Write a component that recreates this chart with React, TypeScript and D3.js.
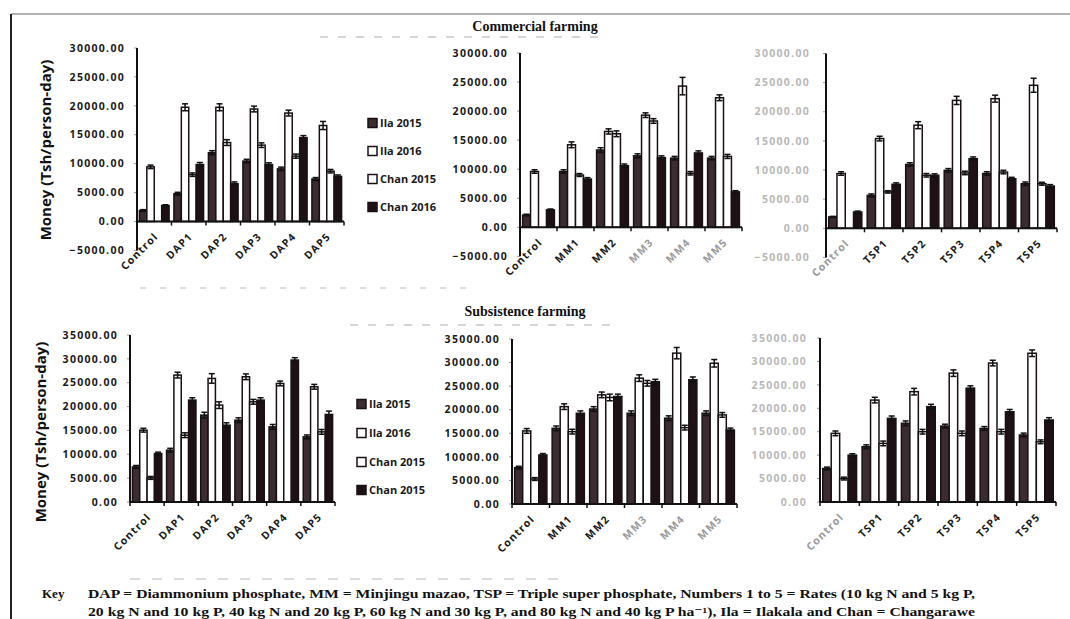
import React from "react";
import * as d3 from "d3";

// ---------- categories & labels ----------
const catsDAP = ["Control", "DAP1", "DAP2", "DAP3", "DAP4", "DAP5"];
const catsMM = ["Control", "MM1", "MM2", "MM3", "MM4", "MM5"];
const catsTSP = ["Control", "TSP1", "TSP2", "TSP3", "TSP4", "TSP5"];

const legendTop = ["Ila 2015", "Ila 2016", "Chan 2015", "Chan 2016"];
const legendBottom = ["Ila 2015", "Ila 2016", "Chan 2015", "Chan 2015"];

const ticksCommercial = [-5000, 0, 5000, 10000, 15000, 20000, 25000, 30000];
const ticksSubsistence = [0, 5000, 10000, 15000, 20000, 25000, 30000, 35000];

// ---------- Commercial farming: DAP ----------
const comDapIla15 = [1900, 4800, 11900, 10450, 9100, 7350];
const comDapIla16 = [9450, 19750, 19750, 19450, 18750, 16600];
const comDapChan15 = [0, 8100, 13650, 13200, 11300, 8700];
const comDapChan16 = [2750, 9850, 6550, 9850, 14500, 7800];
const comDapIla15Err = [150, 250, 350, 300, 300, 250];
const comDapIla16Err = [300, 600, 600, 500, 500, 700];
const comDapChan15Err = [0, 300, 500, 400, 350, 300];
const comDapChan16Err = [150, 350, 300, 300, 350, 250];

// ---------- Commercial farming: MM ----------
const comMmIla15 = [2100, 9600, 13300, 12300, 11900, 11900];
const comMmIla16 = [9600, 14200, 16500, 19300, 24300, 22300];
const comMmChan15 = [0, 9000, 16100, 18300, 9300, 12200];
const comMmChan16 = [3000, 8300, 10600, 12000, 12800, 6100];
const comMmIla15Err = [150, 300, 400, 350, 300, 300];
const comMmIla16Err = [300, 500, 450, 400, 1500, 500];
const comMmChan15Err = [0, 250, 500, 400, 300, 350];
const comMmChan16Err = [150, 250, 300, 300, 350, 200];

// ---------- Commercial farming: TSP ----------
const comTspIla15 = [1950, 5650, 10950, 9950, 9400, 7650];
const comTspIla16 = [9400, 15400, 17700, 21950, 22250, 24550];
const comTspChan15 = [0, 6250, 9100, 9500, 9650, 7650];
const comTspChan16 = [2800, 7550, 9100, 11950, 8500, 7250];
const comTspIla15Err = [100, 250, 300, 300, 300, 300];
const comTspIla16Err = [300, 400, 600, 700, 600, 1200];
const comTspChan15Err = [0, 200, 300, 300, 300, 250];
const comTspChan16Err = [150, 250, 250, 300, 250, 250];

// ---------- Subsistence farming: DAP ----------
const subDapIla15 = [7350, 10850, 18200, 17150, 15750, 13650];
const subDapIla16 = [15050, 26600, 25900, 26250, 24850, 24150];
const subDapChan15 = [5050, 14000, 20300, 21000, 0, 14700];
const subDapChan16 = [10150, 21350, 16100, 21350, 29750, 18350];
const subDapIla15Err = [300, 400, 600, 500, 500, 400];
const subDapIla16Err = [400, 600, 1000, 600, 500, 500];
const subDapChan15Err = [300, 500, 700, 500, 0, 500];
const subDapChan16Err = [300, 500, 500, 500, 500, 700];

// ---------- Subsistence farming: MM ----------
const subMmIla15 = [7700, 16050, 20150, 19250, 18200, 19250];
const subMmIla16 = [15500, 20650, 23150, 26700, 32000, 29850];
const subMmChan15 = [5300, 15350, 22600, 25600, 16200, 18900];
const subMmChan16 = [10400, 19250, 22800, 25950, 26350, 15700];
const subMmIla15Err = [300, 500, 500, 500, 500, 500];
const subMmIla16Err = [500, 600, 600, 700, 1200, 800];
const subMmChan15Err = [300, 500, 700, 600, 500, 500];
const subMmChan16Err = [300, 500, 500, 500, 600, 400];

// ---------- Subsistence farming: TSP ----------
const subTspIla15 = [7150, 11800, 16800, 16200, 15700, 14300];
const subTspIla16 = [14650, 21750, 23550, 27500, 29650, 31750];
const subTspChan15 = [5000, 12500, 15000, 14650, 15000, 12850];
const subTspChan16 = [10000, 17850, 20350, 24300, 19250, 17500];
const subTspIla15Err = [300, 400, 500, 400, 400, 400];
const subTspIla16Err = [500, 600, 700, 700, 600, 700];
const subTspChan15Err = [300, 500, 500, 500, 500, 400];
const subTspChan16Err = [300, 500, 500, 500, 500, 500];

// ---------- styles ----------
const seriesFill = ["#3b2c31", "#ffffff", "#ffffff", "#1d1115"];
const barStroke = "#1a1014";
const sansBold = "'Open Sans', 'Liberation Sans', sans-serif";
const serif = "'Liberation Serif', 'DejaVu Serif', serif";

type Panel = {
  cats: string[];
  vals: number[][];
  errs: number[][];
  x0: number;
  x1: number;
  yTop: number;
  yZero: number;
  max: number;
  ticks: number[];
  faintY: boolean;
  faintX: number[];
  labelGap: number;
};

const panels: Panel[] = [
  {
    cats: catsDAP,
    vals: [comDapIla15, comDapIla16, comDapChan15, comDapChan16],
    errs: [comDapIla15Err, comDapIla16Err, comDapChan15Err, comDapChan16Err],
    x0: 137, x1: 344, yTop: 48, yZero: 221.5, max: 30000,
    ticks: ticksCommercial, faintY: false, faintX: [], labelGap: 12,
  },
  {
    cats: catsMM,
    vals: [comMmIla15, comMmIla16, comMmChan15, comMmChan16],
    errs: [comMmIla15Err, comMmIla16Err, comMmChan15Err, comMmChan16Err],
    x0: 520, x1: 742, yTop: 53, yZero: 227.3, max: 30000,
    ticks: ticksCommercial, faintY: false, faintX: [3, 4, 5], labelGap: 12,
  },
  {
    cats: catsTSP,
    vals: [comTspIla15, comTspIla16, comTspChan15, comTspChan16],
    errs: [comTspIla15Err, comTspIla16Err, comTspChan15Err, comTspChan16Err],
    x0: 826, x1: 1057, yTop: 53.5, yZero: 228.3, max: 30000,
    ticks: ticksCommercial, faintY: true, faintX: [0], labelGap: 16,
  },
  {
    cats: catsDAP,
    vals: [subDapIla15, subDapIla16, subDapChan15, subDapChan16],
    errs: [subDapIla15Err, subDapIla16Err, subDapChan15Err, subDapChan16Err],
    x0: 130, x1: 335, yTop: 335, yZero: 502, max: 35000,
    ticks: ticksSubsistence, faintY: false, faintX: [], labelGap: 12,
  },
  {
    cats: catsMM,
    vals: [subMmIla15, subMmIla16, subMmChan15, subMmChan16],
    errs: [subMmIla15Err, subMmIla16Err, subMmChan15Err, subMmChan16Err],
    x0: 512, x1: 737, yTop: 339, yZero: 504, max: 35000,
    ticks: ticksSubsistence, faintY: false, faintX: [3, 4, 5], labelGap: 12,
  },
  {
    cats: catsTSP,
    vals: [subTspIla15, subTspIla16, subTspChan15, subTspChan16],
    errs: [subTspIla15Err, subTspIla16Err, subTspChan15Err, subTspChan16Err],
    x0: 820, x1: 1056, yTop: 338, yZero: 502, max: 35000,
    ticks: ticksSubsistence, faintY: true, faintX: [0], labelGap: 13,
  },
];

const fmt = d3.format(".2f");

function BarPanel({ p }: { p: Panel }) {
  const y = d3.scaleLinear().domain([0, p.max]).range([p.yZero, p.yTop]);
  const x = d3.scaleBand<string>().domain(p.cats).range([p.x0, p.x1]).paddingInner(0.14).paddingOuter(0.07);
  const step = (p.x1 - p.x0) / p.cats.length;
  const sub = d3.scaleBand<number>().domain([0, 1, 2, 3]).range([0, x.bandwidth()]).padding(0);
  const yMin = d3.min(p.ticks) as number;
  const tickColor = p.faintY ? "#b8b8b8" : "#1a1a1a";
  return (
    <g>
      {/* y ticks & labels */}
      {p.ticks.map((t) => (
        <g key={"yt" + t}>
          <line x1={p.x0 - 3} x2={p.x0} y1={y(t)} y2={y(t)} stroke="#999" strokeWidth={1} />
          <text
            x={p.x0 - p.labelGap}
            y={y(t)}
            dy="0.35em"
            textAnchor="end"
            fontFamily={sansBold}
            fontWeight={700}
            fontSize={10.5}
            letterSpacing={1.3}
            fill={tickColor}
          >
            {fmt(t)}
          </text>
        </g>
      ))}
      {/* bars */}
      {p.cats.map((c, ci) => (
        <g key={"c" + c}>
          {p.vals.map((arr, si) => {
            const v = arr[ci];
            if (!v) return null;
            const bx = (x(c) as number) + (sub(si) as number);
            const bw = sub.bandwidth();
            const e = p.errs[si][ci];
            const cx = bx + bw / 2;
            return (
              <g key={"b" + si}>
                <rect
                  x={bx}
                  y={y(v)}
                  width={bw}
                  height={y(0) - y(v)}
                  fill={seriesFill[si]}
                  stroke={barStroke}
                  strokeWidth={1.5}
                />
                {e > 0 && (
                  <g stroke="#111" strokeWidth={1.5}>
                    <line x1={cx} x2={cx} y1={y(v + e)} y2={y(v - e)} />
                    <line x1={cx - 3} x2={cx + 3} y1={y(v + e)} y2={y(v + e)} />
                    <line x1={cx - 3} x2={cx + 3} y1={y(v - e)} y2={y(v - e)} />
                  </g>
                )}
              </g>
            );
          })}
        </g>
      ))}
      {/* axes */}
      <line x1={p.x0} x2={p.x0} y1={y(p.max)} y2={y(yMin)} stroke="#111" strokeWidth={2} />
      <line x1={p.x0} x2={p.x1} y1={y(0)} y2={y(0)} stroke="#111" strokeWidth={2} />
      {d3.range(p.cats.length + 1).map((i) => (
        <line
          key={"xt" + i}
          x1={p.x0 + i * step}
          x2={p.x0 + i * step}
          y1={y(0)}
          y2={y(0) + 4}
          stroke="#111"
          strokeWidth={1.5}
        />
      ))}
      {/* x labels */}
      {p.cats.map((c, ci) => {
        const cx = (x(c) as number) + x.bandwidth() / 2;
        return (
          <text
            key={"xl" + c}
            transform={`translate(${cx + 2},${y(0) + 13}) rotate(-45)`}
            textAnchor="end"
            dy="0.35em"
            fontFamily={sansBold}
            fontWeight={700}
            fontSize={10.5}
            letterSpacing={1.2}
            fill={p.faintX.includes(ci) ? "#9a9a9a" : "#1a1a1a"}
          >
            {c}
          </text>
        );
      })}
    </g>
  );
}

function Legend({ x, ys, labels }: { x: number; ys: number[]; labels: string[] }) {
  return (
    <g>
      {labels.map((l, i) => (
        <g key={"lg" + i}>
          <rect
            x={x}
            y={ys[i] - 4.5}
            width={9}
            height={9}
            fill={seriesFill[i]}
            stroke={barStroke}
            strokeWidth={1.5}
          />
          <text
            x={x + 12}
            y={ys[i]}
            dy="0.35em"
            fontFamily={sansBold}
            fontWeight={700}
            fontSize={11}
            fill="#1a1a1a"
          >
            {l}
          </text>
        </g>
      ))}
    </g>
  );
}

const legendTopY = [123, 151, 179, 207];
const legendBottomY = [404, 433, 462, 490];

export default function App() {
  return (
    <div style={{ position: "absolute", left: 0, top: 0 }}>
      <svg width={1070} height={619} style={{ display: "block", background: "#fff" }}>
        {/* frame lines */}
        <line x1={11} x2={1070} y1={14} y2={14} stroke="#666" strokeWidth={1} />
        <line x1={11} x2={11} y1={14} y2={619} stroke="#222" strokeWidth={2} />

        {/* faint scan separators */}
        <line x1={320} x2={600} y1={37} y2={37} stroke="#c8c8c8" strokeWidth={1.5} strokeDasharray="8 10" />
        <line x1={140} x2={470} y1={288} y2={288} stroke="#d4d4d4" strokeWidth={1.5} strokeDasharray="6 14" />
        <line x1={350} x2={610} y1={325} y2={325} stroke="#c8c8c8" strokeWidth={1.5} strokeDasharray="8 10" />
        <line x1={130} x2={560} y1={579} y2={579} stroke="#cfcfcf" strokeWidth={1.5} strokeDasharray="10 12" />

        {/* section titles */}
        <text x={535} y={31} textAnchor="middle" fontFamily={serif} fontWeight={700} fontSize={14} fill="#111">
          Commercial farming
        </text>
        <text x={525} y={316} textAnchor="middle" fontFamily={serif} fontWeight={700} fontSize={14} fill="#111">
          Subsistence farming
        </text>

        {/* y axis titles */}
        <text
          transform="translate(46,150) rotate(-90)"
          textAnchor="middle"
          dy="0.35em"
          fontFamily={sansBold}
          fontWeight={700}
          fontSize={15}
          fill="#111"
        >
          Money (Tsh/person-day)
        </text>
        <text
          transform="translate(41,432) rotate(-90)"
          textAnchor="middle"
          dy="0.35em"
          fontFamily={sansBold}
          fontWeight={700}
          fontSize={15}
          fill="#111"
        >
          Money (Tsh/person-day)
        </text>

        {panels.map((p, i) => (
          <BarPanel key={"p" + i} p={p} />
        ))}

        <Legend x={368} ys={legendTopY} labels={legendTop} />
        <Legend x={357} ys={legendBottomY} labels={legendBottom} />

        {/* key */}
        <text x={42} y={598} fontFamily={serif} fontWeight={700} fontSize={13} fill="#111">
          Key
        </text>
        <text
          x={88}
          y={598}
          fontFamily={serif}
          fontWeight={700}
          fontSize={13}
          fill="#111"
          textLength={887}
          lengthAdjust="spacingAndGlyphs"
        >
          DAP = Diammonium phosphate, MM = Minjingu mazao, TSP = Triple super phosphate, Numbers 1 to 5 = Rates (10 kg N and 5 kg P,
        </text>
        <text
          x={88}
          y={616}
          fontFamily={serif}
          fontWeight={700}
          fontSize={13}
          fill="#111"
          textLength={887}
          lengthAdjust="spacingAndGlyphs"
        >
          20 kg N and 10 kg P, 40 kg N and 20 kg P, 60 kg N and 30 kg P, and 80 kg N and 40 kg P ha⁻¹), Ila = Ilakala and Chan = Changarawe
        </text>
      </svg>
    </div>
  );
}
